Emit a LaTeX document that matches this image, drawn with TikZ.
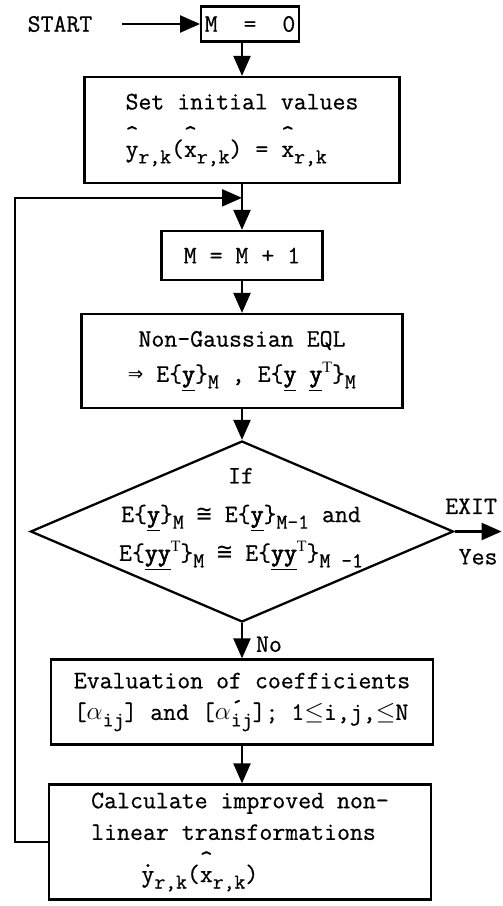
\documentclass[tikz,border=0pt]{standalone}
\usepackage{fontspec}
\setmainfont{Liberation Serif}
\setmonofont{Latin Modern Mono}[FakeBold=0.6,BoldFont={Latin Modern Mono},BoldFeatures={FakeBold=2.5}]
\newfontfamily\symfont{DejaVu Sans Mono}
\usepackage{tikz}
\usetikzlibrary{calc}
\usetikzlibrary{arrows.meta}
\usetikzlibrary{shapes.geometric}

\newcommand\lo[1]{\raisebox{-0.6ex}{\fontsize{12}{14}\selectfont #1}}
\newcommand\up[1]{\raisebox{0.9ex}{\fontsize{9}{10}\selectfont\rmfamily #1}}
\newcommand\accmark[3][0.6em]{\rlap{\raisebox{#1}{#2}}#3}
\newcommand\hatmark{\textasciicircum}
\newcommand\vy{\underline{\textbf{y}}}
\newcommand\approxsym{{\symfont ≅}}
\newcommand\impl{{\symfont ⇒}}
\newcommand\coefa{$\alpha$}

\begin{document}
\begin{tikzpicture}[x=0.02cm,y=-0.02cm,line width=1.3pt,
  nodes={font=\ttfamily\fontsize{14.3}{18}\selectfont},
  box/.style={draw,rectangle,inner sep=2pt},
  flow/.style={-{Triangle[length=0.4cm,width=0.34cm]}}]
 \useasboundingbox (0,0) rectangle (503,906);
 \node (start) at (60,24) {START};
 \node (mzero) [box,minimum width=1.82cm,minimum height=0.7cm] at (250,24) {M~~=~~0};
 \node (init) [box,align=left,minimum width=6.3cm,minimum height=2.12cm] at (242,130)
   {Set initial values\\[9pt]
    \accmark{\hatmark}{y}\lo{r,k}(\accmark{\hatmark}{x}\lo{r,k}) = \accmark{\hatmark}{x}\lo{r,k}};
 \node (minc) [box,minimum width=3.22cm,minimum height=0.98cm] at (242,255.5) {M = M + 1};
 \node (eql) [box,align=center,minimum width=6.42cm,minimum height=1.88cm] at (242,361)
   {Non-Gaussian EQL\\[2pt]
    \impl{} E\{\vy\}\lo{M} , E\{\vy{} \vy\up{T}\}\lo{M}};
 \node (test) [draw,diamond,inner sep=0pt,minimum width=8.46cm,minimum height=3.62cm] at (242,531.5) {};
 \node (testtxt) [align=center] at (241,519)
   {If\\[4pt]
    E\{\vy\}\lo{M} \approxsym{} E\{\vy\}\lo{M-1} and\\[4pt]
    E\{\vy\vy\up{T}\}\lo{M} \approxsym{} E\{\vy\vy\up{T}\}\lo{M -1}};
 \node (coef) [box,align=left,minimum width=7.64cm,minimum height=1.7cm] at (242,702)
   {Evaluation of coefficients\\
    {[}\coefa\lo{ij}] and {[}\coefa\rlap{\raisebox{0.4ex}{´}}\lo{ij}]; 1$\le$i,j,$\le$N};
 \node (calc) [box,align=left,minimum width=7.64cm,minimum height=2.3cm] at (240,842)
   {Calculate improved non-\\
    linear transformations\\[6pt]
    \hspace*{2em}\accmark[0.6em]{.}{y}\lo{r,k}(\accmark{\hatmark}{x}\lo{r,k})};
 \coordinate (join) at ($(init.south)!0.3!(minc.north)$);
 \coordinate (corner) at ($(join)+(-227,0)$);
 \coordinate (exit) at ($(test.east)+(47,0)$);
 % main column
 \draw[flow] ([xshift=0.46cm]start.east) -- (mzero.west);
 \draw[flow] (mzero.south -| init.north) -- (init.north);
 \draw[flow] (init.south) -- (minc.north);
 \draw[flow] (minc.south) -- (eql.north);
 \draw[flow] (eql.south) -- (test.north);
 \draw[flow] (test.south) -- node[right=4pt,pos=0.6] {No} (coef.north);
 \draw[flow] (coef.south) -- (coef.south |- calc.north);
 \draw[flow] (test.east) -- node[above=6pt,xshift=-4pt] {EXIT} node[below=6pt] {Yes} (exit);
 % loop back
 \draw[flow] (calc.west) -| (corner) -- (join);
\end{tikzpicture}
\end{document}
